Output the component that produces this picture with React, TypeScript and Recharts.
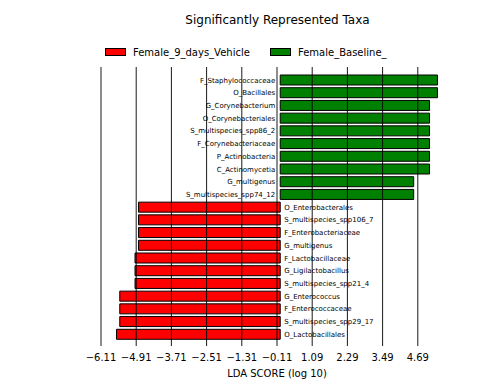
import React from "react";
import {
  Bar,
  BarChart,
  Label,
  LabelList,
  Legend,
  ReferenceLine,
  XAxis,
  YAxis,
} from "recharts";

// taxa enriched in Female_Baseline_ (green, positive LDA)
const baselineTaxa = [
  "F_Staphylococcaceae",
  "O_Bacillales",
  "G_Corynebacterium",
  "O_Corynebacteriales",
  "S_multispecies_spp86_2",
  "F_Corynebacteriaceae",
  "P_Actinobacteria",
  "C_Actinomycetia",
  "G_multigenus",
  "S_multispecies_spp74_12",
];
const baselineScores = [5.36, 5.36, 5.09, 5.09, 5.09, 5.09, 5.09, 5.09, 4.55, 4.55];

// taxa enriched in Female_9_days_Vehicle (red, negative LDA)
const vehicleTaxa = [
  "O_Enterobacterales",
  "S_multispecies_spp106_7",
  "F_Enterobacteriaceae",
  "G_multigenus",
  "F_Lactobacillaceae",
  "G_Ligilactobacillus",
  "S_multispecies_spp21_4",
  "G_Enterococcus",
  "F_Enterococcaceae",
  "S_multispecies_spp29_17",
  "O_Lactobacillales",
];
const vehicleScores = [
  -4.83, -4.83, -4.83, -4.83, -4.95, -4.95, -4.95, -5.47, -5.47, -5.47, -5.58,
];

const xTicks = [-6.11, -4.91, -3.71, -2.51, -1.31, -0.11, 1.09, 2.29, 3.49, 4.69];
const xDomain: [number, number] = [-6.11, 5.89];

const seriesNames = ["Female_9_days_Vehicle", "Female_Baseline_"];
const RED = "#ff0000";
const GREEN = "#008000";
const FONT = "DejaVu Sans, sans-serif";

const rows = [
  ...baselineTaxa.map((name, i) => ({ key: `b${i}`, name, baseline: baselineScores[i], vehicle: 0 })),
  ...vehicleTaxa.map((name, i) => ({ key: `v${i}`, name, baseline: 0, vehicle: vehicleScores[i] })),
];

const margin = { top: 67, right: 51, bottom: 16, left: 101 };

const fmt = (v: number) => (v < 0 ? "\u2212" + Math.abs(v).toFixed(2) : v.toFixed(2));

// green labels sit left of zero, red labels right of zero
const TaxonLabel = (props: any) => {
  const { x, y, width, height, value, side } = props;
  if (!width || Math.abs(width) < 0.5) return null;
  const left = Math.min(x, x + width);
  const right = Math.max(x, x + width);
  const pos = side === "left" ? left - 5 : right + 4;
  return (
    <text x={pos} y={y + height / 2 + 0.5} textAnchor={side === "left" ? "end" : "start"}
      dominantBaseline="central" fontSize={7} fontFamily={FONT} fill="#000">
      {value}
    </text>
  );
};

const LegendBox = () => (
  <svg width={504} height={16} style={{ display: "block" }}>
    <rect x={105.5} y={4.5} width={20} height={7} fill={RED} stroke="#000" />
    <text x={133} y={8} dominantBaseline="central" fontSize={10} fontFamily={FONT} fill="#000">
      {seriesNames[0]}
    </text>
    <rect x={270.5} y={4.5} width={20} height={7} fill={GREEN} stroke="#000" />
    <text x={298} y={8} dominantBaseline="central" fontSize={10} fontFamily={FONT} fill="#000">
      {seriesNames[1]}
    </text>
  </svg>
);

export default function App() {
  return (
    <div style={{ position: "absolute", left: 0, top: 0, width: 504, height: 392, background: "#fff", fontFamily: FONT }}>
      <div style={{ position: "absolute", top: 12, left: 0, width: 555, textAlign: "center", fontSize: 12, lineHeight: "16px", color: "#000" }}>
        Significantly Represented Taxa
      </div>
      <BarChart width={504} height={392} data={rows} layout="vertical" margin={margin} barSize={10}>
        <XAxis
          type="number"
          domain={xDomain}
          ticks={xTicks}
          tickFormatter={fmt}
          axisLine={false}
          tickLine={false}
          height={30}
          interval={0}
          tick={{ fontSize: 10, fill: "#000", fontFamily: FONT }}
        >
          <Label value="LDA SCORE (log 10)" position="insideBottom" offset={-1}
            style={{ fontSize: 10, fill: "#000", fontFamily: FONT }} />
        </XAxis>
        <YAxis type="category" dataKey="key" hide padding={{ top: 7, bottom: 5 }} />
        <Legend layout="horizontal" verticalAlign="middle" content={<LegendBox />}
          wrapperStyle={{ top: 44, left: 0, width: 504 }} />
        <Bar dataKey="baseline" name={seriesNames[1]} stackId="s" fill={GREEN} stroke="#000"
          strokeWidth={1} isAnimationActive={false}>
          <LabelList dataKey="name" content={<TaxonLabel side="left" />} />
        </Bar>
        <Bar dataKey="vehicle" name={seriesNames[0]} stackId="s" fill={RED} stroke="#000"
          strokeWidth={1} isAnimationActive={false}>
          <LabelList dataKey="name" content={<TaxonLabel side="right" />} />
        </Bar>
      </BarChart>
      {/* grid lines sit in front of the bars, so draw them in an overlay chart with the same axes */}
      <div style={{ position: "absolute", left: 0, top: 0, pointerEvents: "none" }}>
        <BarChart width={504} height={392} data={rows} layout="vertical" margin={margin} barSize={10}>
          <XAxis type="number" domain={xDomain} ticks={xTicks} height={30} interval={0}
            axisLine={false} tickLine={false} tick={false} />
          <YAxis type="category" dataKey="key" hide padding={{ top: 7, bottom: 5 }} />
          <Bar dataKey="baseline" stackId="s" fill="none" stroke="none" isAnimationActive={false} />
          <Bar dataKey="vehicle" stackId="s" fill="none" stroke="none" isAnimationActive={false} />
          {xTicks.map((t) => (
            <ReferenceLine key={t} x={t} stroke="#000" strokeOpacity={0.9} strokeWidth={1}
              ifOverflow="visible" />
          ))}
        </BarChart>
      </div>
    </div>
  );
}
